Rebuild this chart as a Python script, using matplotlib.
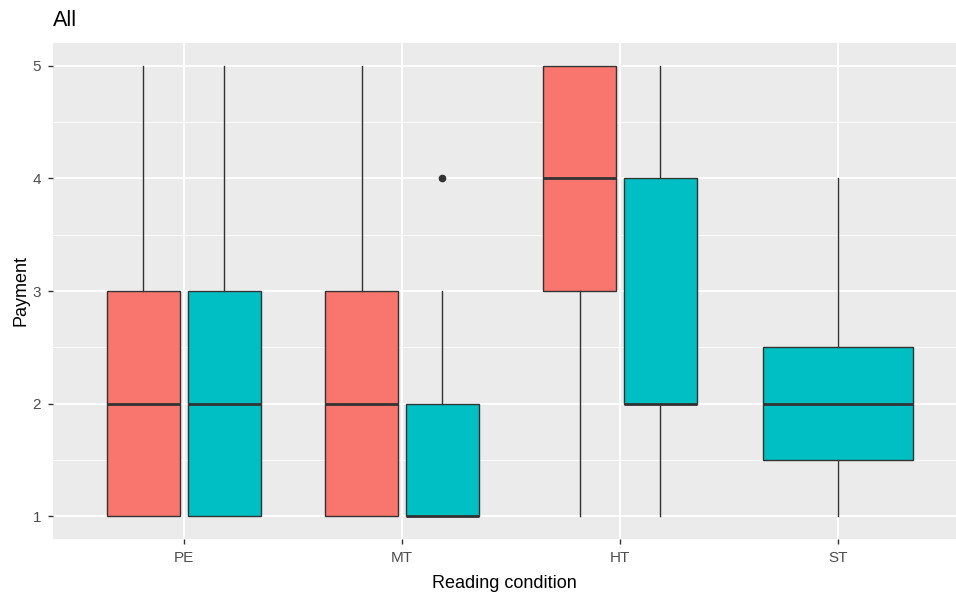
import numpy as np
import matplotlib.pyplot as plt

plt.rcParams["font.family"] = ["Liberation Sans", "DejaVu Sans"]

# Reading condition groups and per-box statistics
conditions = ["PE", "MT", "HT", "ST"]

# red group (first fill level)
red_cond = ["PE", "MT", "HT"]
red_low = [1, 1, 1]
red_q1 = [1, 1, 3]
red_med = [2, 2, 4]
red_q3 = [3, 3, 5]
red_high = [5, 5, 5]
red_fliers = [[], [], []]

# cyan group (second fill level)
cyan_cond = ["PE", "MT", "HT", "ST"]
cyan_low = [1, 1, 1, 1]
cyan_q1 = [1, 1, 2, 1.5]
cyan_med = [2, 1, 2, 2]
cyan_q3 = [3, 2, 4, 2.5]
cyan_high = [5, 3, 5, 4]
cyan_fliers = [[], [4], [], []]

RED = "#F8766D"
CYAN = "#00BFC4"

fig = plt.figure(figsize=(9.56, 5.92), dpi=100)
ax = fig.add_axes([53 / 956, (592 - 539) / 592, (956 - 53) / 956, (539 - 43) / 592])
ax.set_facecolor("#EBEBEB")


def make_stats(low, q1, med, q3, high, fliers):
    return [dict(whislo=a, q1=b, med=c, q3=d, whishi=e, fliers=f)
            for a, b, c, d, e, f in zip(low, q1, med, q3, high, fliers)]


def draw(stats, positions, width, color):
    ax.bxp(stats, positions=positions, widths=width, patch_artist=True,
           showcaps=False, manage_ticks=False,
           boxprops=dict(facecolor=color, edgecolor="#333333", linewidth=1.0),
           medianprops=dict(color="#333333", linewidth=2.0),
           whiskerprops=dict(color="#333333", linewidth=1.0),
           flierprops=dict(marker="o", markerfacecolor="#333333",
                           markeredgecolor="#333333", markersize=4.5),
           zorder=3)


pos = {c: i + 1 for i, c in enumerate(conditions)}
off = 0.185
bw = 0.335

# groups with both fills are dodged; single-fill groups take full width
red_pos = [pos[c] - off for c in red_cond]
cyan_pos = [pos[c] + off if c in red_cond else pos[c] for c in cyan_cond]
cyan_w = [bw if c in red_cond else 2 * bw + 0.015 for c in cyan_cond]

draw(make_stats(red_low, red_q1, red_med, red_q3, red_high, red_fliers), red_pos, bw, RED)
draw(make_stats(cyan_low, cyan_q1, cyan_med, cyan_q3, cyan_high, cyan_fliers), cyan_pos, cyan_w, CYAN)

ax.set_xlim(0.4, 4 + (956 - 838) / 218)
ax.set_ylim(0.8, 5.2)
ax.set_xticks(range(1, len(conditions) + 1))
ax.set_xticklabels(conditions)
ax.set_yticks([1, 2, 3, 4, 5])
ax.set_yticks([1.5, 2.5, 3.5, 4.5], minor=True)

ax.grid(which="major", color="white", linewidth=1.3, zorder=0)
ax.grid(which="minor", axis="y", color="white", linewidth=0.6, zorder=0)
ax.set_axisbelow(True)
for s in ax.spines.values():
    s.set_visible(False)
ax.tick_params(which="major", colors="#333333", labelcolor="#4D4D4D",
               labelsize=11, length=3.5, width=1.0, pad=5)
ax.tick_params(which="minor", length=0)

ax.set_xlabel("Reading condition", fontsize=13, labelpad=7)
ax.set_ylabel("Payment", fontsize=13, labelpad=2)
fig.text(53 / 956, 1 - 20 / 592, "All", fontsize=15.5, va="center", ha="left")

fig.savefig("out.png", dpi=100)
